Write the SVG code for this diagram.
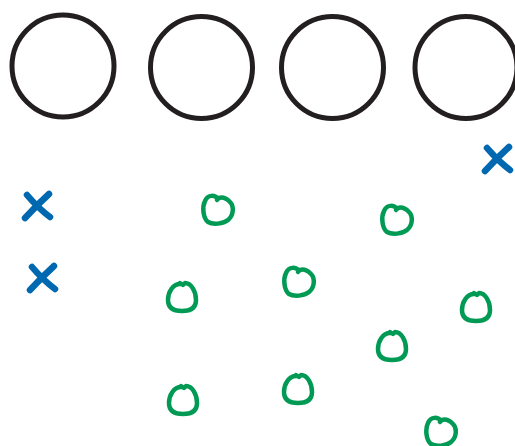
<svg xmlns="http://www.w3.org/2000/svg" xmlns:xlink="http://www.w3.org/1999/xlink" width="515" height="446" viewBox="0 0 515 446">
<style>
.ring{fill:none;stroke:#231f20;stroke-width:5}
.x{fill:none;stroke:#0068b0;stroke-width:6.5;stroke-linecap:round}
.o{fill:none;stroke:#009a55;stroke-width:4.5;stroke-linecap:round;stroke-linejoin:round}
</style>
<defs>
<g id="xm"><path class="x" d="M-12,12 Q0,-1 12,-12"/><path class="x" d="M-10,-11 Q1,2 13,11"/></g>
<g id="ow"><path class="o" d="M0,-11 C-3,-15 -10,-16 -13,-9 C-16,-3 -15,8 -10,12 C-5,15 5,14 10,10 C16,5 16,-4 12,-8 C8,-12 4,-13 1,-12 L-1,-10"/></g>
<g id="on"><path class="o" d="M-2,-13 C-9,-13 -14,-5 -14,3 C-14,11 -8,14 0,14 C8,14 14,11 14,3 C14,-6 9,-14 3,-14 L1,-12 L-2,-14"/></g>
</defs>
<g id="circle1"><circle class="ring" cx="63" cy="66" r="51"/></g>
<g id="circle2"><circle class="ring" cx="201.5" cy="67.5" r="51"/></g>
<g id="circle3"><circle class="ring" cx="332.5" cy="67.5" r="51"/></g>
<g id="circle4"><circle class="ring" cx="466" cy="67.5" r="51"/></g>
<g id="x1"><use xlink:href="#xm" transform="translate(37,206)"/></g>
<g id="x2"><use xlink:href="#xm" transform="translate(42,278)"/></g>
<g id="x3"><use xlink:href="#xm" transform="translate(497,159)"/></g>
<g id="o1"><use xlink:href="#ow" transform="translate(218,210)"/></g>
<g id="o2"><use xlink:href="#on" transform="translate(182,297)"/></g>
<g id="o3"><use xlink:href="#ow" transform="translate(397,220)"/></g>
<g id="o4"><use xlink:href="#ow" transform="translate(299,282)"/></g>
<g id="o5"><use xlink:href="#on" transform="translate(476,307)"/></g>
<g id="o6"><use xlink:href="#on" transform="translate(392,346)"/></g>
<g id="o7"><use xlink:href="#on" transform="translate(298,389)"/></g>
<g id="o8"><use xlink:href="#on" transform="translate(183,400)"/></g>
<g id="o9"><use xlink:href="#ow" transform="translate(441,432)"/></g>
</svg>
